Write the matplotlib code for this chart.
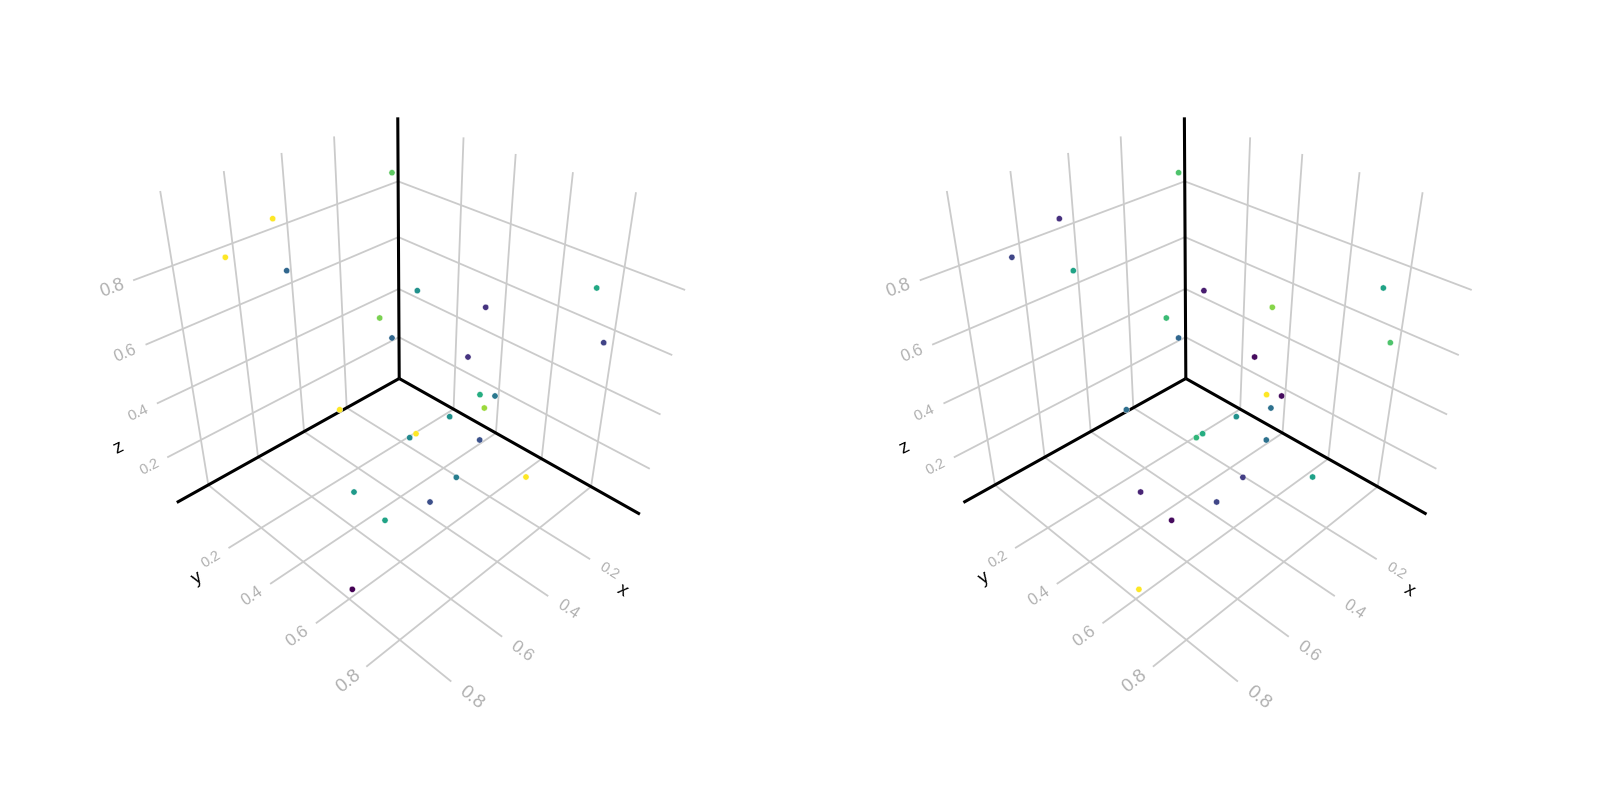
import matplotlib
matplotlib.use("Agg")
import matplotlib.pyplot as plt

plt.rcParams["font.family"] = ["Liberation Sans", "DejaVu Sans"]

x_vals = [0.2242, 0.5694, 0.7069, 0.5727, 0.4183, 0.4117, 0.3208, 0.2223, 0.0715, 0.1110, 0.2969, 0.3207, 0.2995,
          0.3293, 0.3983, 0.3778, 0.4791, 0.4959, 0.6017, 0.4705, 0.3614, 0.5535, 0.6850, 0.6658, 0.8384]
y_vals = [0.1930, 0.0832, 0.0421, 0.1310, 0.3381, 0.3801, 0.3898, 0.5582, 0.8073, 0.8746, 0.5656, 0.6355, 0.6718,
          0.6606, 0.5947, 0.6900, 0.5427, 0.5345, 0.3629, 0.6902, 0.8445, 0.6704, 0.5060, 0.6083, 0.6609]
z_vals = [0.9823, 0.9166, 0.8353, 0.7789, 0.6507, 0.6006, 0.7195, 0.6945, 0.7915, 0.6694, 0.5693, 0.4880, 0.4911,
          0.4598, 0.4316, 0.3910, 0.3878, 0.3785, 0.4410, 0.3127, 0.3409, 0.2627, 0.2783, 0.2283, 0.1313]
color_left = [0.75, 1.0, 1.0, 0.33, 0.80, 0.33, 0.50, 0.15, 0.60, 0.20, 0.15, 0.62, 0.40,
              0.85, 0.50, 0.25, 1.0, 0.47, 1.0, 0.42, 1.0, 0.24, 0.54, 0.58, 0.0]
color_right = [0.72, 0.14, 0.21, 0.58, 0.68, 0.33, 0.08, 0.82, 0.58, 0.72, 0.03, 1.0, 0.03,
               0.37, 0.50, 0.37, 0.62, 0.66, 0.36, 0.18, 0.57, 0.21, 0.10, 0.03, 1.0]

ticks = [0.2, 0.4, 0.6, 0.8]
tick_labels = ["0.2", "0.4", "0.6", "0.8"]
x_lim = (-0.06831, 0.91871)
y_lim = (-0.08012, 0.98271)
z_lim = (0.01694, 1.01217)

GRID = "#cbcbcb"
TICK = "#b0b0b0"

fig = plt.figure(figsize=(16, 8), dpi=100)


def draw_panel(center_x, colors):
    ax = fig.add_axes([(center_x - 400) / 1600, (400 - 386.198) / 800, 0.5, 1], projection="3d")
    ax.set_proj_type("persp", focal_length=0.20515)
    ax.view_init(33.89188, 44.9647, 0)
    ax.set_box_aspect((1, 1.0783, 1.01624), zoom=0.76)
    ax.set_xlim3d(*x_lim)
    ax.set_ylim3d(*y_lim)
    ax.set_zlim3d(*z_lim)
    ax.set_axis_off()
    ax.computed_zorder = False

    x0, x1 = x_lim
    y0, y1 = y_lim
    z0, z1 = z_lim
    for t in ticks:
        ax.plot([t, t], [y0, y1], [z0, z0], color=GRID, lw=1.3, zorder=1)
        ax.plot([t, t], [y0, y0], [z0, z1], color=GRID, lw=1.3, zorder=1)
        ax.plot([x0, x1], [t, t], [z0, z0], color=GRID, lw=1.3, zorder=1)
        ax.plot([x0, x0], [t, t], [z0, z1], color=GRID, lw=1.3, zorder=1)
        ax.plot([x0, x1], [y0, y0], [t, t], color=GRID, lw=1.3, zorder=1)
        ax.plot([x0, x0], [y0, y1], [t, t], color=GRID, lw=1.3, zorder=1)

    ax.plot([x0, x1], [y0, y0], [z0, z0], color="black", lw=2.2, zorder=2, solid_capstyle="butt")
    ax.plot([x0, x0], [y0, y1], [z0, z0], color="black", lw=2.2, zorder=2, solid_capstyle="butt")
    ax.plot([x0, x0], [y0, y0], [z0, z1], color="black", lw=2.2, zorder=2, solid_capstyle="butt")

    ax.scatter(x_vals, y_vals, z_vals, c=colors, cmap="viridis", vmin=0, vmax=1, s=20,
               edgecolors="white", linewidths=0.3, depthshade=False, zorder=3)

    # tick labels grow towards the viewer, zdir turns them along the grid lines
    sizes = [10.5, 11.5, 12.5, 13.5]
    for t, lab, fs in zip(ticks, tick_labels, sizes):
        ax.text(t, y1 + 0.07, z0, lab, zdir=(0, 1, 0), color=TICK, fontsize=fs, ha="center", va="center",
                rotation_mode="anchor")
        ax.text(x1 + 0.065, t, z0, lab, zdir=(-1, 0, 0), color=TICK, fontsize=fs, ha="center", va="center",
                rotation_mode="anchor")
    for t, lab, fs in zip(ticks, tick_labels, [10.5, 11, 12, 13]):
        ax.text(x1 + 0.065, y0, t, lab, zdir=(-1, 0, 0), color=TICK, fontsize=fs, ha="center", va="center",
                rotation_mode="anchor")

    ax.text(0.237, 1.12, z0, "x", zdir=(0, 1, 0), color="black", fontsize=13, ha="center", va="center",
            rotation_mode="anchor")
    ax.text(1.055, 0.235, z0, "y", zdir=(-1, 0, 0), color="black", fontsize=13, ha="center", va="center",
            rotation_mode="anchor")
    ax.text(1.065, y0, 0.315, "z", zdir=(-1, 0, 0), color="black", fontsize=13, ha="center", va="center",
            rotation_mode="anchor")


draw_panel(395.69, color_left)
draw_panel(1182.3, color_right)

fig.savefig("out.png", dpi=100, facecolor="white")
